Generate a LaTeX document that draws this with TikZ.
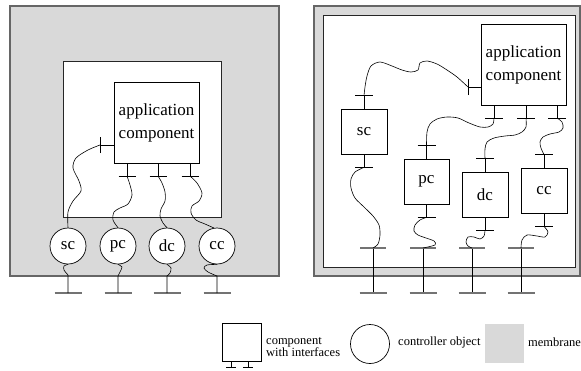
\documentclass[tikz,border=0pt]{standalone}
\usepackage{fontspec}
\setmainfont{Liberation Serif}
\usetikzlibrary{positioning}

\definecolor{membranegray}{gray}{0.85}
\definecolor{bargray}{gray}{0.45}

\tikzset{
  memb/.style={fill=membranegray, draw=black!60, line width=1.2pt},
  inside/.style={fill=white, draw=black!85, line width=0.8pt},
  comp/.style={draw, fill=white, line width=0.7pt, inner sep=0pt, align=center,
    font=\fontsize{17}{23}\selectfont},
  ctrl/.style={draw, circle, fill=white, line width=0.7pt, minimum size=36pt,
    inner sep=0pt, font=\fontsize{17}{20}\selectfont},
  wire/.style={line width=0.6pt},
  itf/.style={line width=0.7pt},
  mbar/.style={draw=bargray, line width=1.3pt},
  lbl/.style={font=\fontsize{12.5}{12}\selectfont, align=left, anchor=west, inner sep=0pt},
}

\begin{document}
\begin{tikzpicture}[x=1pt, y=-1pt]
\useasboundingbox (0,0) rectangle (581,370);

% left: controllers as objects
\draw[memb] (10,6) rectangle (279,276);
\draw[inside] (63,61) rectangle (221,217);
\node[comp, minimum width=85pt, minimum height=81pt] (appL) at (156.5,122.5) {application\\component};

\coordinate (sL) at (100,145);
\draw[itf] (appL.west |- sL) -- (sL);
\draw[itf] ([yshift=-8pt]sL) -- ([yshift=8pt]sL);
\foreach \n/\x in {p/127, d/158, c/190} {
  \coordinate (\n L) at (\x,176);
  \draw[itf] (appL.south -| \n L) -- (\n L);
  \draw[itf] ([xshift=-8.5pt]\n L) -- ([xshift=8.5pt]\n L);
}

\foreach \n/\x in {sc/68, pc/118, dc/167, cc/217} {
  \node[ctrl] (\n L) at (\x,246) {\n};
  \coordinate (\n X) at (\x,293);
  \draw[mbar] ([xshift=-13.5pt]\n X) -- ([xshift=13.5pt]\n X);
}

\draw[wire] plot[smooth] coordinates {(sL) (88,150) (76,158) (73,168) (79,181) (81,191) (73,201) (68,212) (scL.north)};
\draw[wire] plot[smooth] coordinates {(pL) (130,185) (132,195) (128,204) (120,208) (114,212) (113,220) (pcL.north)};
\draw[wire] plot[smooth] coordinates {(dL) (162,183) (165,192) (165,201) (161,209) (160,216) (163,223) (dcL.north)};
\draw[wire] plot[smooth] coordinates {(cL) (197,183) (202,193) (199,201) (192,206) (191,213) (196,220) (205,224) (ccL.100)};

\draw[wire] plot[smooth] coordinates {(scL.south) (64,266) (64,270) (68,275)} -- (scX);
\draw[wire] plot[smooth] coordinates {(pcL.south) (122,267) (120,272) (118,276)} -- (pcX);
\draw[wire] plot[smooth] coordinates {(dcL.south) (171,268) (170,273) (167,276)} -- (dcX);
\draw[wire] plot[smooth] coordinates {(ccL.south) (207,265) (204,268) (208,272) (217,276)} -- (ccX);

% right: controllers as components
\draw[memb] (314,6) rectangle (580,276);
\draw[inside] (323,15) rectangle (575,267);
\node[comp, minimum width=85pt, minimum height=81pt] (appR) at (523.5,64.5) {application\\component};

\coordinate (sR) at (468,87);
\draw[itf] (appR.west |- sR) -- (sR);
\draw[itf] ([yshift=-8pt]sR) -- ([yshift=8pt]sR);
\foreach \n/\x in {p/494, d/526, c/557} {
  \coordinate (\n R) at (\x,118);
  \draw[itf] (appR.south -| \n R) -- (\n R);
  \draw[itf] ([xshift=-9pt]\n R) -- ([xshift=9pt]\n R);
}

\node[comp, minimum width=46pt, minimum height=45pt] (scR) at (364,131.5) {sc};
\node[comp, minimum width=45pt, minimum height=45pt] (pcR) at (426.5,181.5) {pc};
\node[comp, minimum width=46pt, minimum height=45pt] (dcR) at (485,194.5) {dc};
\node[comp, minimum width=46pt, minimum height=45pt] (ccR) at (544,190.5) {cc};

\foreach \n in {sc, pc, dc, cc} {
  \coordinate[above=13pt of \n R.north] (\n T);
  \coordinate[below=13pt of \n R.south] (\n B);
  \draw[itf] (\n R.north) -- (\n T);
  \draw[itf] (\n R.south) -- (\n B);
  \draw[itf] ([xshift=-9pt]\n T) -- ([xshift=9pt]\n T);
  \draw[itf] ([xshift=-9pt]\n B) -- ([xshift=9pt]\n B);
}

\foreach \n/\x in {1/373, 2/423, 3/472, 4/521} {
  \coordinate (m\n) at (\x,248);
  \coordinate (x\n) at (\x,293);
  \draw[wire] (m\n) -- (x\n);
  \draw[mbar] ([xshift=-13pt]m\n) -- ([xshift=13pt]m\n);
  \draw[mbar] ([xshift=-13.5pt]x\n) -- ([xshift=13.5pt]x\n);
}

\draw[wire] plot[smooth] coordinates {(sR) (457,77) (447,70) (437,64) (427,61) (420,63) (418,70) (411,72) (402,70) (392,66) (380,62) (371,66) (367,76) (365,87) (scT)};
\draw[wire] plot[smooth] coordinates {(scB) (355,172) (351,179) (351,188) (355,198) (364,207) (373,216) (379,225) (380,235) (378,244) (m1)};
\draw[wire] plot[smooth] coordinates {(pR) (493,124) (488,127) (480,127) (469,123) (458,118) (447,117) (437,119) (430,124) (427,132) (pcT)};
\draw[wire] plot[smooth] coordinates {(dR) (526,127) (522,132) (515,135) (505,136) (494,138) (487,142) (485,149) (dcT)};
\draw[wire] plot[smooth] coordinates {(cR) (562,122) (563,128) (559,132) (550,134) (543,137) (540,142) (541,148) (ccT)};
\draw[wire] plot[smooth] coordinates {(pcB) (420,220) (415,225) (414,231) (418,235) (426,238) (434,241) (435,245) (m2)};
\draw[wire] plot[smooth] coordinates {(dcB) (484,236) (480,239) (474,237) (468,237) (466,242) (468,246) (m3)};
\draw[wire] plot[smooth] coordinates {(ccB) (548,232) (545,237) (537,236) (527,235) (522,240) (m4)};

% legend
\node[draw, line width=0.7pt, minimum width=39pt, minimum height=38pt, inner sep=0pt] (lgcomp) at (241.5,342) {};
\foreach \x in {231, 248} {
  \coordinate (lg\x) at (\x,367);
  \draw[itf] (lgcomp.south -| lg\x) -- (lg\x);
  \draw[itf] ([xshift=-5pt]lg\x) -- ([xshift=5pt]lg\x);
}
\node[lbl] (lgcomptext) at (266,347) {component\\with interfaces};
\node[draw, circle, line width=0.7pt, minimum size=39pt, inner sep=0pt] (lgctrl) at (370,344) {};
\node[lbl] (lgctrltext) at (398,342) {controller object};
\node[fill=membranegray, minimum width=39pt, minimum height=39pt, inner sep=0pt] (lgmemb) at (504.5,343.5) {};
\node[lbl] (lgmembtext) at (528,342) {membrane};

\end{tikzpicture}
\end{document}
